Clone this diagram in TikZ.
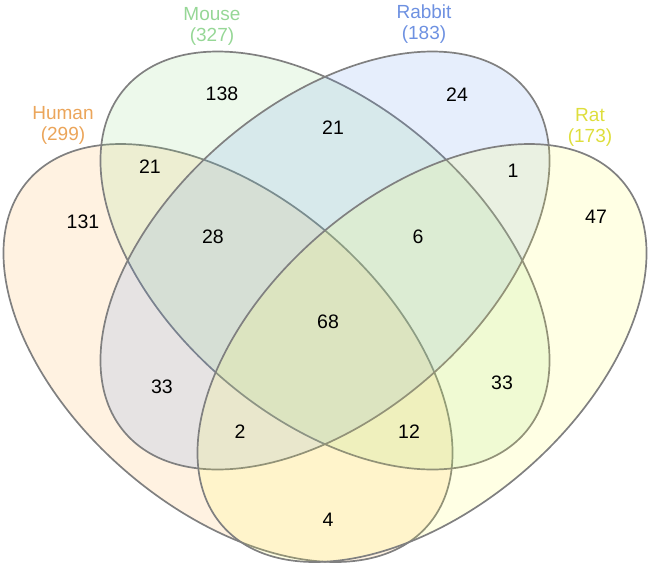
\documentclass[tikz,border=0pt]{standalone}
\usepackage{fontspec}
\setmainfont{Liberation Sans}
\definecolor{humanfill}{RGB}{255,168,55}
\definecolor{mousefill}{RGB}{135,215,122}
\definecolor{rabbitfill}{RGB}{88,142,235}
\definecolor{ratfill}{RGB}{255,255,75}
\definecolor{humantxt}{RGB}{235,165,90}
\definecolor{mousetxt}{RGB}{150,215,150}
\definecolor{rabbittxt}{RGB}{110,145,225}
\definecolor{rattxt}{RGB}{222,222,60}
\definecolor{edge}{RGB}{128,128,128}
\tikzset{
  setshape/.style={draw=edge, line width=1.7pt, fill opacity=0.15},
  num/.style={font=\fontsize{19.5}{22}\selectfont, text=black, inner sep=0pt},
  setlabel/.style={font=\fontsize{19}{21}\selectfont, align=center, inner sep=0pt}
}
\begin{document}
\begin{tikzpicture}[x=1pt,y=-1pt]
\useasboundingbox (0,0) rectangle (650,568);
% ellipses
\path[setshape, fill=humanfill, rotate around={-40.73:(228,353)}] (228,353) ellipse [x radius=263.95, y radius=156.2];
\path[setshape, fill=mousefill, rotate around={-40.73:(325,260.5)}] (325,260.5) ellipse [x radius=263.95, y radius=156.2];
\path[setshape, fill=rabbitfill, rotate around={40.73:(325,260.5)}] (325,260.5) ellipse [x radius=263.95, y radius=156.2];
\path[setshape, fill=ratfill, rotate around={40.73:(422,353)}] (422,353) ellipse [x radius=263.95, y radius=156.2];
% set labels
\node[setlabel, text=humantxt] (lhuman) at (63,125) {Human\\(299)};
\node[setlabel, text=mousetxt] (lmouse) at (212,26) {Mouse\\(327)};
\node[setlabel, text=rabbittxt] (lrabbit) at (424,24) {Rabbit\\(183)};
\node[setlabel, text=rattxt] (lrat) at (590,127) {Rat\\(173)};
% region counts
\node[num] (n138) at (222,94) {138};
\node[num] (n21a) at (150,167) {21};
\node[num] (n131) at (83,222) {131};
\node[num] (n28) at (213,237) {28};
\node[num] (n21b) at (333,128) {21};
\node[num] (n24) at (457,95) {24};
\node[num] (n1) at (513,171) {1};
\node[num] (n47) at (596,217) {47};
\node[num] (n6) at (418,237) {6};
\node[num] (n68) at (328,322) {68};
\node[num] (n33a) at (162,387) {33};
\node[num] (n2) at (240,432) {2};
\node[num] (n33b) at (502,383) {33};
\node[num] (n12) at (409,432) {12};
\node[num] (n4) at (328,520) {4};
\end{tikzpicture}
\end{document}
